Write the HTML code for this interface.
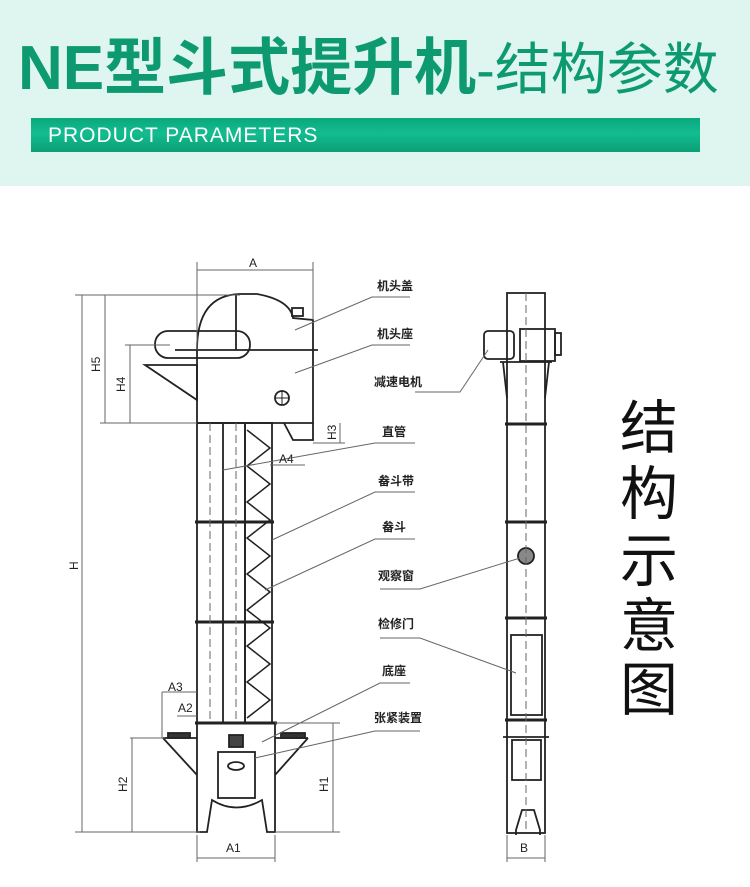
<!DOCTYPE html>
<html><head><meta charset="utf-8"><style>
html,body{margin:0;padding:0;background:#fff;width:750px;height:887px;overflow:hidden}
.hdr{position:absolute;left:0;top:0;width:750px;height:186px;background:#def6ef}
.t{position:absolute;left:18px;top:38px;font-family:"Liberation Sans","Noto Sans CJK SC",sans-serif;color:#0e9a70;white-space:nowrap;line-height:1}
.bar{position:absolute;left:31px;top:118px;width:669px;height:34px;background:linear-gradient(#0aa77c,#12bd90 45%,#0b9f75);}
.bar span{position:absolute;left:17px;top:6px;color:#fff;font:21px "Liberation Sans",sans-serif;letter-spacing:1px}
svg{position:absolute;left:0;top:0}
.v{position:absolute;left:620px;font:58px "Liberation Sans","Noto Sans CJK SC",sans-serif;color:#111;line-height:1}
</style></head><body>
<div class="hdr"></div>
<div class="t"><span style="font-size:62px;font-weight:bold">NE型斗式提升机</span><span style="font-size:56px">-结构参数</span></div>
<div class="bar"><span>PRODUCT PARAMETERS</span></div>
<div class="v" style="top:400px">结</div>
<div class="v" style="top:466px">构</div>
<div class="v" style="top:533px">示</div>
<div class="v" style="top:598px">意</div>
<div class="v" style="top:662px">图</div>
<svg width="750" height="887" viewBox="0 0 750 887" font-family="Liberation Sans,Noto Sans CJK SC,sans-serif">
<g stroke="#222" fill="none" stroke-width="1.8">
<path d="M197 350 Q197 295 240 294 L257 294 Q290 300 293 318 L313 320 L313 423 L197 423 Z"/>
<line x1="175" y1="350" x2="318" y2="350"/>
<line x1="236" y1="294" x2="236" y2="350"/>
<rect x="155" y="331" width="95" height="27" rx="13"/>
<path d="M145 365 L197 365 L197 400 Z"/>
<circle cx="282" cy="398" r="7"/><line x1="275" y1="398" x2="289" y2="398" stroke-width="1"/><line x1="282" y1="391" x2="282" y2="405" stroke-width="1"/>
<rect x="292" y="308" width="11" height="8"/>
<path d="M284 423 L293 440 L313 440 L313 423"/>
<rect x="197" y="423" width="48" height="300"/>
<rect x="245" y="423" width="27" height="300"/>
<line x1="195" y1="522" x2="274" y2="522" stroke-width="3"/>
<line x1="195" y1="622" x2="274" y2="622" stroke-width="3"/>
<line x1="195" y1="723" x2="277" y2="723" stroke-width="3"/>
<line x1="223" y1="423" x2="223" y2="723"/>
<path d="M247 430 L270 448 L247 466 L270 484 L247 502 L270 520 L247 538 L270 556 L247 574 L270 592 L247 610 L270 628 L247 646 L270 664 L247 682 L270 700 L247 718" stroke-width="1.5"/>
<path d="M197 723 L197 832 L207 832 L212 800 Q236 815 262 800 L267 832 L275 832 L275 723"/>
<path d="M163 738 L197 738 M163 738 L197 775 M275 738 L308 738 M308 738 L275 775"/>
<rect x="168" y="733" width="22" height="5" fill="#333"/><rect x="281" y="733" width="24" height="5" fill="#333"/>
<rect x="218" y="752" width="37" height="46"/>
<rect x="229" y="735" width="14" height="12" fill="#444"/>
<ellipse cx="236" cy="766" rx="8" ry="4"/>
<rect x="507" y="293" width="38" height="540"/>
<rect x="484" y="331" width="30" height="28" rx="4"/>
<rect x="520" y="329" width="35" height="32"/>
<rect x="555" y="333" width="6" height="22"/>
<path d="M500 362 L552 362 M503 362 L507 398 M549 362 L545 398"/>
<line x1="505" y1="424" x2="547" y2="424" stroke-width="3"/>
<line x1="505" y1="522" x2="547" y2="522" stroke-width="3"/>
<line x1="505" y1="618" x2="547" y2="618" stroke-width="3"/>
<rect x="511" y="635" width="31" height="80"/>
<line x1="505" y1="720" x2="547" y2="720" stroke-width="3"/>
<path d="M503 737 L549 737"/>
<rect x="512" y="740" width="29" height="40"/>
<path d="M516 835 L516 830 L522 810 L534 810 L540 830 L540 835"/>
<circle cx="526" cy="556" r="8" fill="#888"/>
</g>
<g stroke="#666" stroke-width="1" fill="none">
<line x1="526" y1="293" x2="526" y2="833" stroke-dasharray="8 4"/>
<line x1="210" y1="423" x2="210" y2="723" stroke-dasharray="8 4"/>
<line x1="236" y1="423" x2="236" y2="723" stroke-dasharray="8 4"/>
<line x1="82" y1="295" x2="82" y2="832"/><line x1="75" y1="295" x2="240" y2="295"/><line x1="75" y1="832" x2="200" y2="832"/>
<line x1="105" y1="295" x2="105" y2="423"/><line x1="100" y1="423" x2="197" y2="423"/>
<line x1="130" y1="345" x2="130" y2="423"/><line x1="125" y1="345" x2="170" y2="345"/>
<line x1="197" y1="270" x2="313" y2="270"/><line x1="197" y1="262" x2="197" y2="350"/><line x1="313" y1="262" x2="313" y2="320"/>
<line x1="130" y1="738" x2="165" y2="738"/><line x1="132" y1="738" x2="132" y2="832"/>
<line x1="333" y1="723" x2="333" y2="832"/><line x1="275" y1="723" x2="340" y2="723"/><line x1="275" y1="832" x2="340" y2="832"/>
<line x1="197" y1="835" x2="197" y2="862"/><line x1="275" y1="835" x2="275" y2="862"/><line x1="197" y1="858" x2="275" y2="858"/>
<line x1="507" y1="835" x2="507" y2="862"/><line x1="545" y1="835" x2="545" y2="862"/><line x1="507" y1="858" x2="545" y2="858"/>
<line x1="162" y1="692" x2="197" y2="692"/><line x1="162" y1="692" x2="162" y2="738"/>
<line x1="177" y1="716" x2="197" y2="716"/>
<line x1="340" y1="423" x2="340" y2="443"/><line x1="313" y1="443" x2="345" y2="443"/>
<line x1="270" y1="465" x2="305" y2="465"/>
<path d="M410 297 L372 297 L295 330"/>
<path d="M410 345 L372 345 L295 373"/>
<path d="M415 392 L460 392 L488 350"/>
<path d="M415 443 L375 443 L223 470"/>
<path d="M415 492 L375 492 L272 540"/>
<path d="M415 539 L375 539 L265 590"/>
<path d="M380 589 L420 589 L520 558"/>
<path d="M380 638 L420 638 L516 673"/>
<path d="M410 683 L380 683 L262 742"/>
<path d="M420 731 L375 731 L255 758"/>
</g>
<g font-size="12" font-weight="bold" fill="#222">
<text x="377" y="290">机头盖</text><text x="377" y="338">机头座</text><text x="374" y="386">减速电机</text>
<text x="382" y="436">直管</text><text x="378" y="485">畚斗带</text><text x="382" y="531">畚斗</text>
<text x="378" y="580">观察窗</text><text x="378" y="628">检修门</text><text x="382" y="675">底座</text><text x="374" y="722">张紧装置</text>
</g>
<g font-size="12" fill="#222">
<text x="249" y="267">A</text><text x="279" y="463">A4</text><text x="168" y="691">A3</text><text x="178" y="712">A2</text>
<text x="226" y="852">A1</text><text x="520" y="852">B</text>
<text transform="translate(100,372) rotate(-90)">H5</text>
<text transform="translate(125,392) rotate(-90)">H4</text>
<text transform="translate(78,570) rotate(-90)">H</text>
<text transform="translate(127,792) rotate(-90)">H2</text>
<text transform="translate(328,792) rotate(-90)">H1</text>
<text transform="translate(336,440) rotate(-90)">H3</text>
</g>
</svg>
</body></html>
